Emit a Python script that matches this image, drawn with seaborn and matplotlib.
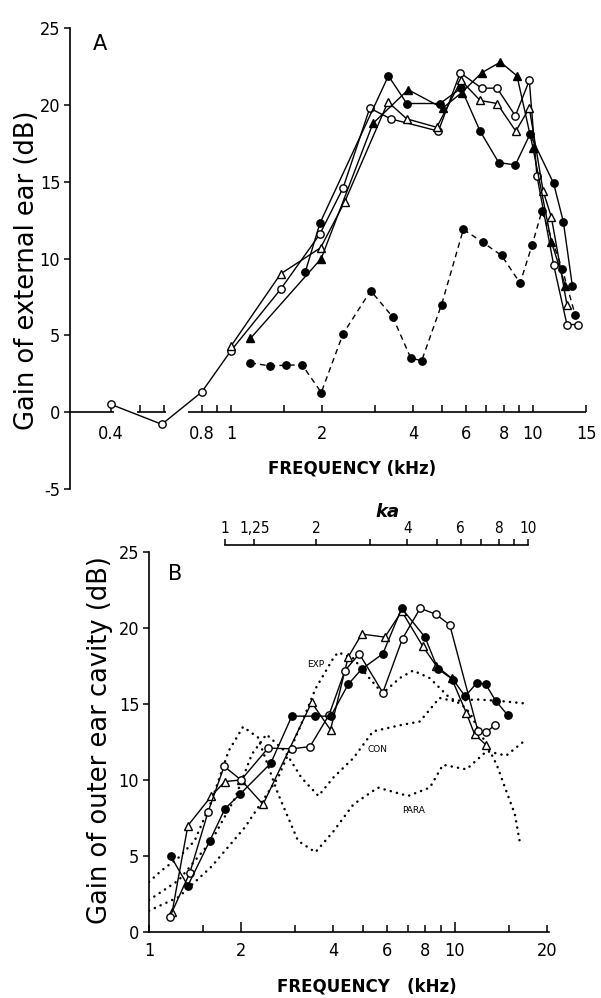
import matplotlib
matplotlib.use("Agg")
import matplotlib.pyplot as plt
import seaborn as sns
from matplotlib import font_manager as fm
from matplotlib.ticker import FixedLocator, FixedFormatter

# ---------------- Panel A data (frequency kHz, gain dB) ----------------
a_open_circle_f = [0.4, 0.59, 0.8, 1.0, 1.46, 1.97, 2.35, 2.88, 3.38, 4.86, 5.74, 6.76, 7.6, 8.74, 9.72, 10.3, 11.7, 12.95, 14.1]
a_open_circle_g = [0.5, -0.8, 1.3, 4.0, 8.0, 11.6, 14.6, 19.8, 19.1, 18.3, 22.1, 21.1, 21.1, 19.3, 21.6, 15.4, 9.6, 5.7, 5.7]

a_open_tri_f = [1.0, 1.46, 1.98, 2.38, 3.31, 3.82, 4.8, 5.78, 6.68, 7.6, 8.77, 9.72, 10.8, 11.5, 12.95]
a_open_tri_g = [4.3, 9.0, 10.7, 13.7, 20.2, 19.1, 18.55, 21.6, 20.3, 20.1, 18.3, 19.8, 14.4, 12.7, 7.0]

a_fill_tri_f = [1.16, 1.99, 2.95, 3.86, 5.02, 5.8, 6.76, 7.8, 8.85, 10.0, 11.5, 12.8]
a_fill_tri_g = [4.8, 10.0, 18.8, 21.0, 19.8, 20.8, 22.1, 22.8, 21.9, 17.2, 11.1, 8.2]

a_fill_circle_f = [1.76, 1.97, 3.32, 3.82, 4.92, 5.78, 6.68, 7.7, 8.74, 9.77, 11.7, 12.6, 13.5]
a_fill_circle_g = [9.1, 12.3, 21.9, 20.1, 20.1, 21.1, 18.3, 16.25, 16.1, 18.1, 14.9, 12.4, 8.2]

a_dashed_f = [1.16, 1.35, 1.52, 1.72, 1.99, 2.35, 2.90, 3.43, 3.94, 4.28, 4.98, 5.88, 6.82, 7.87, 9.06, 9.94, 10.7, 12.5, 13.8]
a_dashed_g = [3.2, 3.0, 3.05, 3.07, 1.27, 5.1, 7.9, 6.2, 3.5, 3.35, 7.0, 11.9, 11.05, 10.2, 8.4, 10.9, 13.1, 9.3, 6.3]

a_xticks_major = [1, 10, 15]
a_xticks_major_labels = ["1", "10", "15"]
a_xticks_labeled_minor = [0.4, 0.8, 2, 4, 6, 8]
a_xticks_labeled_minor_labels = ["0.4", "0.8", "2", "4", "6", "8"]
a_xticks_plain = [0.5, 0.6, 0.9, 1.5, 3, 5, 7, 9]
a_yticks = [-5, 0, 5, 10, 15, 20, 25]
a_axis_segments = [(0.293, 0.41), (0.49, 0.61), (0.72, 15.0)]

# ---------------- Panel B data ----------------
b_fill_circle_f = [1.177, 1.34, 1.58, 1.77, 1.98, 2.5, 2.93, 3.48, 3.93, 4.48, 4.96, 5.81, 6.7, 7.98, 8.8, 9.87, 10.8, 11.8, 12.6, 13.6, 14.9]
b_fill_circle_g = [5.0, 3.05, 6.0, 8.1, 9.05, 11.1, 14.2, 14.2, 14.2, 16.3, 17.3, 18.3, 21.3, 19.4, 17.3, 16.6, 15.5, 16.4, 16.3, 15.2, 14.25]

b_open_circle_f = [1.17, 1.36, 1.56, 1.76, 2.0, 2.45, 2.93, 3.36, 3.88, 4.37, 4.87, 5.81, 6.74, 7.7, 8.67, 9.62, 11.9, 12.65, 13.5]
b_open_circle_g = [1.0, 3.9, 7.9, 10.9, 10.0, 12.1, 12.05, 12.2, 14.3, 17.2, 18.3, 15.75, 19.3, 21.3, 20.9, 20.2, 13.2, 13.15, 13.6]

b_open_tri_f = [1.19, 1.34, 1.6, 1.77, 2.0, 2.36, 3.4, 3.92, 4.48, 4.96, 5.9, 6.7, 7.85, 8.7, 9.75, 10.9, 11.6, 12.65]
b_open_tri_g = [1.3, 7.0, 8.95, 9.9, 10.0, 8.4, 15.1, 13.3, 18.1, 19.6, 19.4, 21.1, 18.8, 17.5, 16.7, 14.4, 13.0, 12.3]

exp_f = [1.0, 1.25, 1.6, 2.06, 2.64, 3.12, 3.5, 4.0, 4.15, 4.66, 5.15, 5.8, 6.6, 7.3, 8.28, 9.5, 10.6, 11.2, 12.7, 13.7, 14.7, 15.7, 16.3]
exp_g = [1.4, 2.3, 4.3, 6.9, 10.15, 13.5, 16.0, 18.0, 18.4, 18.0, 16.9, 15.7, 16.7, 17.2, 16.7, 15.5, 14.9, 14.4, 12.3, 11.0, 9.3, 7.75, 5.9]

con_f = [1.0, 1.25, 1.6, 1.91, 2.17, 2.42, 2.78, 3.15, 3.58, 4.0, 4.66, 5.4, 6.6, 7.68, 8.9, 9.87, 11.8, 14.0, 16.7]
con_g = [2.1, 3.4, 6.0, 8.8, 11.7, 13.0, 11.9, 10.15, 8.95, 10.15, 11.45, 13.2, 13.6, 13.85, 15.4, 15.2, 15.3, 15.2, 15.05]

para_f = [1.0, 1.1, 1.25, 1.41, 1.6, 1.82, 2.03, 2.27, 2.64, 3.07, 3.5, 4.0, 4.66, 5.6, 7.03, 8.28, 9.14, 10.9, 12.7, 14.7, 16.7]
para_g = [3.3, 4.05, 4.9, 6.0, 8.6, 11.9, 13.5, 12.8, 9.1, 6.0, 5.25, 6.6, 8.4, 9.5, 8.95, 9.5, 11.0, 10.7, 11.9, 11.6, 12.5]

b_xticks_major = [1, 2, 4, 6, 8, 10, 20]
b_xticks_major_labels = ["1", "2", "4", "6", "8", "10", "20"]
b_xticks_minor = [1.5, 3, 5, 7, 9, 15]
b_yticks = [0, 5, 10, 15, 20, 25]

ka_ticks = [1, 1.25, 2, 4, 6, 8, 10]
ka_labels = ["1", "1,25", "2", "4", "6", "8", "10"]
ka_minor = [3, 5, 7, 9]

# ---------------- styling ----------------
sns.set_style("ticks")
names = {f.name for f in fm.fontManager.ttflist}
NARROW = "Liberation Sans Narrow" if "Liberation Sans Narrow" in names else "DejaVu Sans"
plt.rcParams["font.family"] = [NARROW, "DejaVu Sans"]
plt.rcParams["font.stretch"] = "condensed"
plt.rcParams["axes.linewidth"] = 1.2
for k in ("text.color", "axes.edgecolor", "xtick.color", "ytick.color", "axes.labelcolor"):
    plt.rcParams[k] = "black"

W, H = 601, 998
fig = plt.figure(figsize=(W / 100, H / 100), dpi=100)
fig.patch.set_facecolor("white")

WIDE = dict(family="DejaVu Sans", fontstretch="normal")


def rect(l, t, r, b):
    return [l / W, 1 - b / H, (r - l) / W, (b - t) / H]


def series(ax, f, g, marker, filled, ls="-", ms=5.3):
    sns.lineplot(x=f, y=g, ax=ax, color="black", lw=1.0, linestyle=ls,
                 marker=marker, markersize=ms,
                 markerfacecolor="black" if filled else "white",
                 markeredgecolor="black", markeredgewidth=1.0,
                 estimator=None, sort=False, legend=False)


def dotted(ax, f, g):
    sns.lineplot(x=f, y=g, ax=ax, color="black", lw=1.8,
                 linestyle=(0, (0.05, 2.5)), dash_capstyle="round",
                 estimator=None, sort=False, legend=False)


# ================= Panel A =================
axA = fig.add_axes(rect(70, 28.3, 588.8, 488.75))
axA.set_facecolor("white")
series(axA, a_open_circle_f, a_open_circle_g, "o", False)
series(axA, a_open_tri_f, a_open_tri_g, "^", False)
series(axA, a_fill_tri_f, a_fill_tri_g, "^", True)
series(axA, a_fill_circle_f, a_fill_circle_g, "o", True)
series(axA, a_dashed_f, a_dashed_g, "o", True, ls=(0, (4, 3)))

axA.set_xscale("log")
axA.set_xlim(0.293, 15.3)
axA.set_ylim(-5, 25)
for s in ("top", "right"):
    axA.spines[s].set_visible(False)
axA.spines["bottom"].set_position(("data", 0))
axA.spines["bottom"].set_color("none")
for a, b in a_axis_segments:
    axA.hlines(0, a, b, color="black", lw=1.2)

axA.xaxis.set_major_locator(FixedLocator(a_xticks_major + a_xticks_labeled_minor))
axA.xaxis.set_major_formatter(FixedFormatter(a_xticks_major_labels + a_xticks_labeled_minor_labels))
axA.xaxis.set_minor_locator(FixedLocator(a_xticks_plain))
axA.xaxis.set_minor_formatter(FixedFormatter([""] * len(a_xticks_plain)))
axA.tick_params(axis="x", which="both", direction="in", length=5, width=1.1,
                colors="black", labelsize=13, pad=9)
for t in axA.xaxis.get_major_ticks():
    if t.get_loc() in a_xticks_major:
        t.tick1line.set_markersize(10)

axA.set_yticks(a_yticks)
axA.set_yticklabels([str(v) for v in a_yticks])
axA.tick_params(axis="y", direction="out", length=4, width=1.1, labelsize=13, pad=3,
                colors="black")
axA.set_xlabel("")
axA.set_ylabel("")

fig.text(100 / W, 1 - 44 / H, "A", fontsize=15, ha="center", va="center", **WIDE)
fig.text(27 / W, 1 - 270 / H, "Gain of external ear (dB)", rotation=90,
         ha="center", va="center", fontsize=18.5, **WIDE)
fig.text(352 / W, 1 - 468 / H, "FREQUENCY (kHz)", ha="center", va="center",
         fontsize=12, fontweight="bold", **WIDE)

# ================= Panel B =================
axB = fig.add_axes(rect(149, 552, 549, 932))
axB.set_facecolor("none")
dotted(axB, exp_f, exp_g)
dotted(axB, con_f, con_g)
dotted(axB, para_f, para_g)
series(axB, b_open_tri_f, b_open_tri_g, "^", False)
series(axB, b_open_circle_f, b_open_circle_g, "o", False)
series(axB, b_fill_circle_f, b_fill_circle_g, "o", True)

axB.set_xscale("log")
axB.set_xlim(1, 20.3)
axB.set_ylim(0, 25)
for s in ("top", "right"):
    axB.spines[s].set_visible(False)
axB.xaxis.set_major_locator(FixedLocator(b_xticks_major))
axB.xaxis.set_major_formatter(FixedFormatter(b_xticks_major_labels))
axB.xaxis.set_minor_locator(FixedLocator(b_xticks_minor))
axB.xaxis.set_minor_formatter(FixedFormatter([""] * len(b_xticks_minor)))
axB.tick_params(axis="x", which="both", direction="in", length=5, width=1.1,
                labelsize=13, pad=7, colors="black")
for t in axB.xaxis.get_major_ticks():
    if t.get_loc() in (2, 10):
        t.tick1line.set_markersize(7)
axB.set_yticks(b_yticks)
axB.set_yticklabels([str(v) for v in b_yticks])
axB.tick_params(axis="y", direction="out", length=4, width=1.1, labelsize=13, pad=3,
                colors="black")
axB.set_xlabel("")
axB.set_ylabel("")

axB.text(3.5, 17.6, "EXP", fontsize=6.5, ha="center", va="center", **WIDE)
axB.text(5.6, 12.0, "CON", fontsize=6.5, ha="center", va="center", **WIDE)
axB.text(7.3, 8.0, "PARA", fontsize=6.5, ha="center", va="center", **WIDE)

fig.text(175 / W, 1 - 574 / H, "B", fontsize=15, ha="center", va="center", **WIDE)
fig.text(100 / W, 1 - 740 / H, "Gain of outer ear cavity (dB)", rotation=90,
         ha="center", va="center", fontsize=18.5, **WIDE)
fig.text(367 / W, 1 - 987 / H, "FREQUENCY   (kHz)", ha="center", va="center",
         fontsize=12, fontweight="bold", **WIDE)

# ================= ka axis =================
axK = fig.add_axes(rect(225, 544.5, 528, 545))
axK.set_facecolor("none")
axK.set_xscale("log")
axK.set_xlim(1, 10)
axK.set_yticks([])
for s in ("bottom", "left", "right"):
    axK.spines[s].set_visible(False)
axK.xaxis.set_ticks_position("top")
axK.xaxis.set_label_position("top")
axK.xaxis.set_major_locator(FixedLocator(ka_ticks))
axK.xaxis.set_major_formatter(FixedFormatter(ka_labels))
axK.xaxis.set_minor_locator(FixedLocator(ka_minor))
axK.xaxis.set_minor_formatter(FixedFormatter([""] * len(ka_minor)))
axK.tick_params(axis="x", which="both", direction="out", length=4, width=1.1,
                labelsize=11, pad=2, top=True, bottom=False, labeltop=True,
                labelbottom=False, colors="black")
fig.text(388 / W, 1 - 512 / H, "ka", fontsize=13, fontweight="bold", style="italic",
         ha="center", va="center", **WIDE)

fig.savefig("out.png", dpi=100, facecolor="white")
